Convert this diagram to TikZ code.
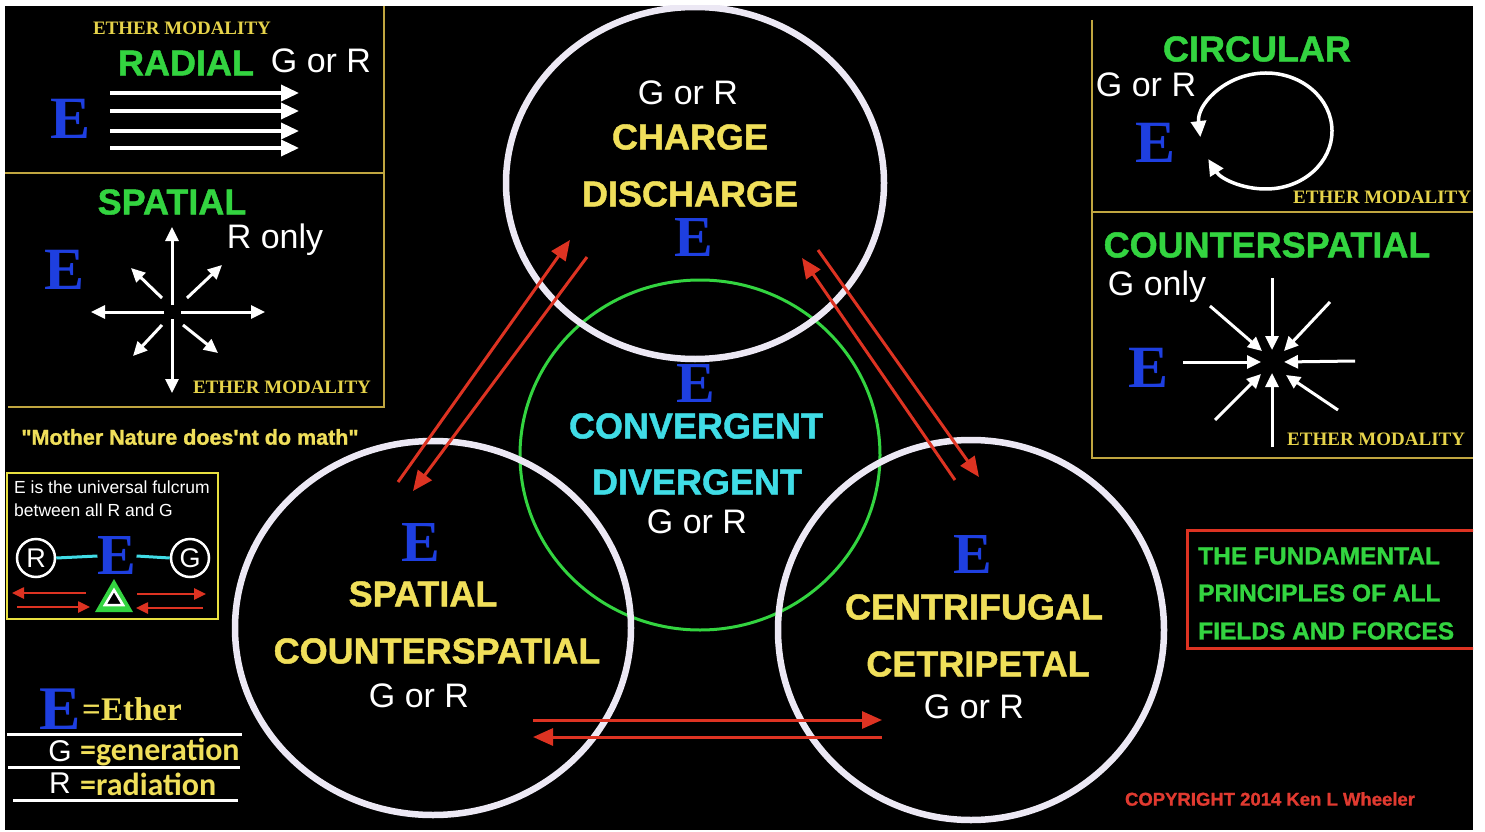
\documentclass[tikz,border=0pt]{standalone}
\usepackage{fontspec}
\setmainfont{Liberation Serif}
\setsansfont{Liberation Sans}[BoldFeatures={FakeBold=1.2}]
\newfontfamily\calfont{Carlito}
\newfontfamily\qfont{Liberation Sans}[BoldFeatures={FakeBold=1.2}]
\usetikzlibrary{arrows.meta,calc}
\definecolor{yel}{HTML}{F0DF5A}
\definecolor{emy}{HTML}{E6D34A}
\definecolor{grn}{HTML}{33D440}
\definecolor{cyn}{HTML}{40DCE6}
\definecolor{blu}{HTML}{1E3FE0}
\definecolor{rd}{HTML}{DD3322}
\definecolor{wc}{HTML}{ECE8F4}
\definecolor{pl}{HTML}{C0A640}
\definecolor{fy}{HTML}{E8E040}
\definecolor{cpy}{HTML}{E03A30}
\newcommand{\fsz}[1]{\fontsize{#1}{#1}\selectfont}
\tikzset{
  txt/.style={inner sep=0pt},
  ytitle/.style={txt, text=yel, font=\sffamily\bfseries\fsz{36}},
  gtitle/.style={txt, text=grn, font=\sffamily\bfseries\fsz{36}},
  ctitle/.style={txt, text=cyn, font=\sffamily\bfseries\fsz{36}},
  wlab/.style={txt, text=white, font=\sffamily\fsz{34}},
  bigE/.style={txt, text=blu, font=\rmfamily\bfseries\fsz{58}},
  ether/.style={txt, text=emy, font=\rmfamily\bfseries\fsz{19}},
  ring/.style={draw=wc, line width=6.5pt},
  gring/.style={draw=grn, line width=3pt},
  pline/.style={draw=pl, line width=1.6pt},
  rarr/.style={draw=rd, line width=3pt, -{Triangle[length=20pt,width=17pt]}},
  warr/.style={draw=white, line width=3.5pt, -{Triangle[length=18pt,width=16pt]}},
  sarr/.style={draw=white, line width=3pt, -{Triangle[length=14pt,width=13pt]}},
  farr/.style={draw=rd, line width=2.5pt, -{Triangle[length=12pt,width=11pt]}},
  lline/.style={draw=white, line width=3pt},
}
\begin{document}
\begin{tikzpicture}[x=1pt,y=-1pt]
\useasboundingbox (0,0) rectangle (1485,832);
\fill[white] (0,0) rectangle (1485,832);
\fill[black] (5,6) rectangle (1473,830);
\begin{scope}
\clip (5,6) rectangle (1473,830);

% ---------- central rings ----------
\coordinate (ctop) at (695,183);
\coordinate (cmid) at (700,455);
\coordinate (cbl) at (433,628);
\coordinate (cbr) at (971,630);
\draw[gring] (cmid) ellipse [x radius=180pt, y radius=175pt];
\draw[ring] (ctop) ellipse [x radius=189pt, y radius=176pt];
\draw[ring] (cbl) ellipse [x radius=198pt, y radius=187pt];
\draw[ring] (cbr) ellipse [x radius=193pt, y radius=190pt];

% top ring texts
\node[wlab] (t1) at (688,93) {G or R};
\node[ytitle] (t2) at (690,137) {CHARGE};
\node[ytitle] (t3) at (690,194) {DISCHARGE};
\node[bigE] (t4) at (694,238) {E};
% middle ring texts
\node[bigE] (m1) at (696,384) {E};
\node[ctitle] (m2) at (696,426) {CONVERGENT};
\node[ctitle] (m3) at (697,482) {DIVERGENT};
\node[wlab] (m4) at (697,522) {G or R};
% bottom-left ring texts
\node[bigE] (l1) at (421,543) {E};
\node[ytitle] (l2) at (423,594) {SPATIAL};
\node[ytitle] (l3) at (437,651) {COUNTERSPATIAL};
\node[wlab] (l4) at (419,696) {G or R};
% bottom-right ring texts
\node[bigE] (r1) at (973,555) {E};
\node[ytitle] (r2) at (974,607) {CENTRIFUGAL};
\node[ytitle] (r3) at (978,664) {CETRIPETAL};
\node[wlab] (r4) at (974,707) {G or R};

% red arrows between rings
\coordinate (a1s) at (398,482); \coordinate (a1e) at (570,240);
\coordinate (a2s) at (587,257); \coordinate (a2e) at (413,491);
\coordinate (a3s) at (955,480); \coordinate (a3e) at (802,258);
\coordinate (a4s) at (818,250); \coordinate (a4e) at (979,477);
\coordinate (a5s) at (533,720); \coordinate (a5e) at (882,720);
\coordinate (a6s) at (882,737); \coordinate (a6e) at (533,737);
\draw[rarr] (a1s) -- (a1e);
\draw[rarr] (a2s) -- (a2e);
\draw[rarr] (a3s) -- (a3e);
\draw[rarr] (a4s) -- (a4e);
\draw[rarr] (a5s) -- (a5e);
\draw[rarr] (a6s) -- (a6e);

% ---------- top-left panels ----------
\draw[pline] (5,173) -- (385,173);
\draw[pline] (384,6) -- (384,407) -- (8,407);
\node[ether] (em1) at (182,28) {ETHER MODALITY};
\node[gtitle] (rad) at (186,63) {RADIAL};
\node[wlab] (rgr) at (321,61) {G or R};
\node[bigE, font=\rmfamily\bfseries\fsz{60}] (re) at (71,119) {E};
\foreach \yy [count=\i] in {93,111,131,148}{
  \coordinate (ra\i) at (110,\yy); \coordinate (rb\i) at (299,\yy);
  \draw[warr] (ra\i) -- (rb\i);
}
\node[gtitle] (spa) at (172,202) {SPATIAL};
\node[wlab] (ron) at (275,240) {R only};
\node[bigE, font=\rmfamily\bfseries\fsz{60}] (se) at (65,270) {E};
\coordinate (sc) at (172,312);
\foreach \sx/\sy/\ex/\ey [count=\i] in {172/305/172/227, 172/319/172/393, 164/312/91/312, 181/312/265/312, 162/298/131/268, 187/298/222/265, 162/325/133/356, 183/325/218/353}{
  \coordinate (ss\i) at (\sx,\sy); \coordinate (se\i) at (\ex,\ey);
  \draw[sarr] (ss\i) -- (se\i);
}
\node[ether] (em2) at (282,387) {ETHER MODALITY};

% quote
\node[txt, text=yel, font=\qfont\bfseries\fsz{21.5}] (quote) at (190,437) {"Mother Nature does'nt do math"};

% ---------- fulcrum box ----------
\draw[draw=fy, line width=2.5pt] (7,473) rectangle (218,619);
\node[txt, text=white, font=\sffamily\fsz{17.5}, anchor=west] (fb1) at (14,487) {E is the universal fulcrum};
\node[txt, text=white, font=\sffamily\fsz{17.5}, anchor=west] (fb2) at (14,510) {between all R and G};
\node[circle, draw=white, line width=2.5pt, minimum size=38pt, inner sep=0pt, text=white, font=\sffamily\fsz{27}] (fr) at (36,558) {R};
\node[circle, draw=white, line width=2.5pt, minimum size=38pt, inner sep=0pt, text=white, font=\sffamily\fsz{27}] (fg) at (190,558) {G};
\node[bigE, font=\rmfamily\bfseries\fsz{58}] (fe) at (117,556) {E};
\draw[draw=cyn, line width=3pt] (fr.east) -- (fe.west);
\draw[draw=cyn, line width=3pt] (fe.east) -- (fg.west);
\fill[grn] (95,612) -- (133,612) -- (114,579) -- cycle;
\draw[white, line width=2.5pt, fill=black] (105,605) -- (123,605) -- (114,590) -- cycle;
\coordinate (f1s) at (86,593); \coordinate (f1e) at (12,593);
\coordinate (f2s) at (17,607); \coordinate (f2e) at (90,607);
\coordinate (f3s) at (137,594); \coordinate (f3e) at (206,594);
\coordinate (f4s) at (203,608); \coordinate (f4e) at (136,608);
\draw[farr] (f1s) -- (f1e);
\draw[farr] (f2s) -- (f2e);
\draw[farr] (f3s) -- (f3e);
\draw[farr] (f4s) -- (f4e);

% ---------- legend ----------
\node[bigE, font=\rmfamily\bfseries\fsz{62}] (le) at (60,709) {E};
\node[txt, text=yel, font=\rmfamily\bfseries\fsz{33}, anchor=west] (lee) at (82,709) {=Ether};
\draw[lline] (7,734) -- (242,734);
\node[txt, text=white, font=\sffamily\fsz{30}] (lg) at (60,751) {G};
\node[txt, text=yel, font=\calfont\bfseries\fsz{32}, anchor=west] (lgg) at (80,752) {=generation};
\draw[lline] (8,767) -- (240,767);
\node[txt, text=white, font=\sffamily\fsz{30}] (lr) at (60,783) {R};
\node[txt, text=yel, font=\calfont\bfseries\fsz{32}, anchor=west] (lrr) at (80,784) {=radiation};
\draw[lline] (13,800) -- (238,800);

% ---------- right panels ----------
\draw[pline] (1092,20) -- (1092,458) -- (1473,458);
\draw[pline] (1092,212) -- (1473,212);
\node[gtitle] (circ) at (1257,49) {CIRCULAR};
\node[wlab] (cgr) at (1146,85) {G or R};
\node[bigE, font=\rmfamily\bfseries\fsz{60}] (ce) at (1155,143) {E};
\coordinate (cc) at (1266,131);
\draw[draw=white, line width=3.5pt, {Triangle[length=16pt,width=15pt]}-{Triangle[length=16pt,width=15pt]}]
  (cc) ++(186:66pt and 58pt) arc [start angle=186, end angle=-151, x radius=66pt, y radius=58pt];
\node[ether, anchor=west] (em3) at (1293,197) {ETHER MODALITY};

\node[gtitle] (cs) at (1267,245) {COUNTERSPATIAL};
\node[wlab] (gon) at (1157,287) {G only};
\node[bigE, font=\rmfamily\bfseries\fsz{60}] (cse) at (1148,368) {E};
\foreach \sx/\sy/\ex/\ey [count=\i] in {1272/278/1272/350, 1272/447/1272/373, 1183/362/1261/362, 1355/361/1284/362, 1210/306/1262/351, 1330/302/1284/351, 1215/420/1261/374, 1338/410/1286/375}{
  \coordinate (cs\i) at (\sx,\sy); \coordinate (ce\i) at (\ex,\ey);
  \draw[sarr] (cs\i) -- (ce\i);
}
\node[ether, anchor=west] (em4) at (1287,439) {ETHER MODALITY};

% fundamental box
\draw[draw=rd, line width=3pt] (1187,530) rectangle (1480,648);
\node[txt, text=grn, font=\sffamily\bfseries\fsz{24.5}, anchor=west] (fp1) at (1198,556) {THE FUNDAMENTAL};
\node[txt, text=grn, font=\sffamily\bfseries\fsz{24.5}, anchor=west] (fp2) at (1198,593) {PRINCIPLES OF ALL};
\node[txt, text=grn, font=\sffamily\bfseries\fsz{24.5}, anchor=west] (fp3) at (1198,631) {FIELDS AND FORCES};

\node[txt, text=cpy, font=\sffamily\bfseries\fsz{18.5}] (copy) at (1270,799) {COPYRIGHT 2014 Ken L Wheeler};
\end{scope}
\end{tikzpicture}
\end{document}
